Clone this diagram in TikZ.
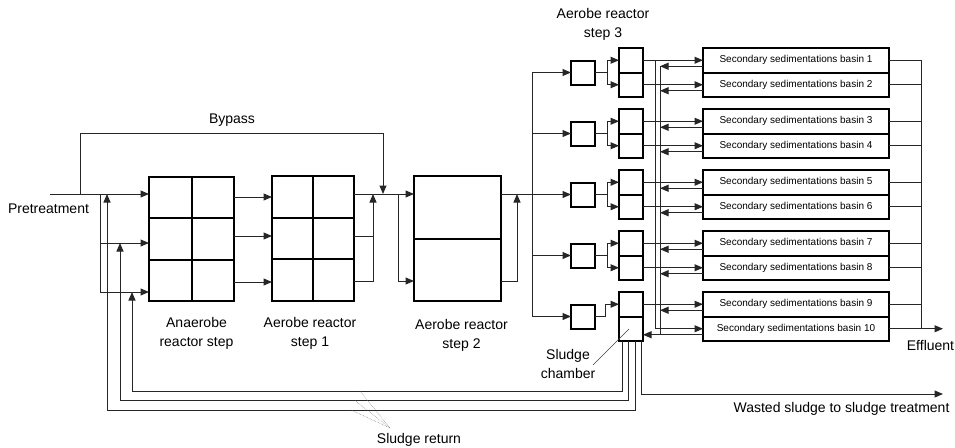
\documentclass[tikz,border=0pt]{standalone}
\usepackage{fontspec}
\setmainfont{Liberation Sans}
\usetikzlibrary{arrows.meta,calc}
\begin{document}
\begin{tikzpicture}[x=1pt,y=-1pt,
  conn/.style={line width=1pt, draw=black!85},
  flow/.style={conn, -{Triangle[length=8.5pt,width=7pt]}},
  box/.style={draw, line width=2pt, inner sep=0pt, outer sep=0pt},
  grid/.style={line width=2pt},
  lbl/.style={font=\fontsize{14}{19}\selectfont, align=center, inner sep=0pt},
  btxt/.style={font=\fontsize{10}{12}\selectfont},
  callout/.style={line width=0.5pt, draw=black!55, densely dotted},
  pointer/.style={line width=0.6pt, draw=black!75},
]
\useasboundingbox (0,0) rectangle (955,447);

% ---------- reactors ----------
\node[box, minimum width=85pt, minimum height=124pt] (an) at (191.5,239) {};
\draw[grid] (an.north) -- (an.south)
  ($(an.north west)!0.3333!(an.south west)$) -- ($(an.north east)!0.3333!(an.south east)$)
  ($(an.north west)!0.6667!(an.south west)$) -- ($(an.north east)!0.6667!(an.south east)$);
\node[box, minimum width=82pt, minimum height=125pt] (s1) at (313,238.5) {};
\draw[grid] (s1.north) -- (s1.south)
  ($(s1.north west)!0.3333!(s1.south west)$) -- ($(s1.north east)!0.3333!(s1.south east)$)
  ($(s1.north west)!0.6667!(s1.south west)$) -- ($(s1.north east)!0.6667!(s1.south east)$);
\node[box, minimum width=87pt, minimum height=125pt] (s2) at (457.5,238.5) {};
\draw[grid] (s2.west) -- (s2.east);

% ---------- step 3, basins ----------
\foreach \k in {0,...,4}{
  \pgfmathsetmacro\T{48+61*\k}
  \pgfmathtruncatemacro\na{2*\k+1}
  \pgfmathtruncatemacro\nb{2*\k+2}
  \node[box, minimum width=24pt, minimum height=49pt] (p\k) at (631,\T+24.5) {};
  \draw[grid] (p\k.west) -- (p\k.east);
  \node[box, minimum width=24pt, minimum height=24pt] (q\k) at (583,\T+24.5) {};
  \node[box, btxt, minimum width=186pt, minimum height=24.5pt] (ba\k) at (796,\T+12.25) {Secondary sedimentations basin \na};
  \node[box, btxt, minimum width=186pt, minimum height=24.5pt] (bb\k) at (796,\T+36.75) {Secondary sedimentations basin \nb};
}

% ---------- coordinates ----------
\coordinate (pstart) at (50,194);
\coordinate (bypA) at (80,194);
\coordinate (byin) at (383,194);
\coordinate (dist) at (100,194);
\coordinate (d2) at (100,243);
\coordinate (d3) at (100,292);
\coordinate (r1) at (107,194);
\coordinate (r2) at (120,243);
\coordinate (r3) at (132,292);
\coordinate (o2) at (354,236);
\coordinate (o3) at (354,281);
\coordinate (j1) at (373,194);
\coordinate (j2) at (398,194);
\coordinate (e3) at (501,281);
\coordinate (j3) at (517,194);
\coordinate (dv) at (532,194);
\coordinate (dtop) at (532,72.5);
\coordinate (dbot) at (532,316.5);
\coordinate (Atop) at (655,60.25);
\coordinate (Abot) at (655,328.75);
\coordinate (Btop) at (660,66.25);
\coordinate (Bbot) at (660,334.75);
\coordinate (Etop) at (921,60.25);
\coordinate (Ebot) at (921,328.75);
\coordinate (effend) at (943,328.75);
\coordinate (c3) at (622,341);
\coordinate (c2) at (628.5,341);
\coordinate (c1) at (635,341);
\coordinate (cw) at (641.5,341);
\coordinate (k3) at (622,391);
\coordinate (k2) at (628.5,400.5);
\coordinate (k1) at (635,410);
\coordinate (wend) at (943,394);

% ---------- inflow and bypass ----------
\draw[flow] (pstart) -- (pstart -| an.west);
\draw[flow] (bypA) -- ++(0,-61) -| (byin);
\draw[conn] (dist) -- (d3);
\draw[flow] (d2) -- (d2 -| an.west);
\draw[flow] (d3) -- (d3 -| an.west);

% anaerobe -> step 1
\foreach \yy in {197,236,282}{
  \coordinate (tmp) at (234,\yy);
  \draw[flow] (tmp -| an.east) -- (tmp -| s1.west);
}
% step 1 -> step 2
\draw[flow] (s1.east |- j1) -- (s2.west |- j1);
\draw[conn] (o2) -- (o2 -| j1);
\draw[flow] (o3) -| (j1);
\draw[flow] (j2) |- (s2.west |- o3);
% step 2 -> distribution
\draw[conn] (s2.east |- j3) -- (dv);
\draw[flow] (e3) -| (j3);
\draw[conn] (dtop) -- (dbot);
\foreach \k in {0,...,4}{
  \draw[flow] (q\k.west -| dtop) -- (q\k.west);
}

% squares -> step 3 cells -> basins
\foreach \k in {0,...,3}{
  \coordinate (f\k) at ($(q\k.east)+(12,0)$);
  \coordinate (ut\k) at ($(p\k.west)+(0,-12.25)$);
  \coordinate (ub\k) at ($(p\k.west)+(0,12.25)$);
  \draw[conn] (q\k.east) -- (f\k);
  \draw[flow] (f\k) |- (ut\k);
  \draw[flow] (f\k) |- (ub\k);
  \draw[flow] (ba\k.west -| p\k.east) -- (ba\k.west);
  \draw[flow] (bb\k.west -| p\k.east) -- (bb\k.west);
}
\coordinate (f4) at ($(q4.east)+(10,0)$);
\coordinate (ut4) at ($(p4.west)+(0,-12.25)$);
\draw[conn] (q4.east) -- (f4);
\draw[flow] (f4) |- (ut4);
\draw[flow] (ba4.west -| p4.east) -- (ba4.west);
\draw[flow] (bb4.west -| Atop) -- (bb4.west);
\draw[conn] (Atop) -- (Abot);

% returns from basins
\foreach \k in {0,...,4}{
  \coordinate (ra\k) at ($(ba\k.west)+(0,6)$);
  \draw[flow] (ra\k) -- (ra\k -| Btop);
}
\foreach \k in {0,...,3}{
  \coordinate (rb\k) at ($(bb\k.west)+(0,6)$);
  \draw[flow] (rb\k) -- (rb\k -| Btop);
}
\coordinate (rb4) at ($(bb4.west)+(0,6)$);
\draw[flow] (rb4) -- (rb4 -| p4.east);
\draw[conn] (Btop) -- (Bbot);

% effluent
\draw[conn] (Etop) -- (Ebot);
\foreach \k in {0,...,4}{
  \draw[conn] (ba\k.east) -- (ba\k.east -| Etop);
}
\foreach \k in {0,...,3}{
  \draw[conn] (bb\k.east) -- (bb\k.east -| Etop);
}
\draw[flow] (bb4.east) -- (effend);

% sludge chamber outlets
\draw[flow] (c3) -- (k3) -| (r3);
\draw[flow] (c2) -- (k2) -| (r2);
\draw[flow] (c1) -- (k1) -| (r1);
\draw[flow] (cw) |- (wend);

% ---------- labels ----------
\node[lbl] (lpre) at (48.5,209) {Pretreatment};
\node[lbl] (lbyp) at (232,120) {Bypass};
\node[lbl] (lan) at (196.5,333.5) {Anaerobe\\reactor step};
\node[lbl] (ls1) at (310,333.5) {Aerobe reactor\\step 1};
\node[lbl] (ls2) at (461.5,335) {Aerobe reactor\\step 2};
\node[lbl] (ls3) at (603,24.5) {Aerobe reactor\\step 3};
\node[lbl] (lch) at (568,363.5) {Sludge\\chamber};
\node[lbl] (leff) at (930.5,345) {Effluent};
\node[lbl] (lwas) at (841.5,409) {Wasted sludge to sludge treatment};
\node[lbl] (lret) at (419,440) {Sludge return};

% callouts
\coordinate (srp) at (390,428);
\coordinate (sr1) at (360,391);
\coordinate (sr2) at (355,400.5);
\coordinate (sr3) at (351,410);
\draw[callout] (sr1) -- (srp);
\draw[callout] (sr2) -- (srp);
\draw[callout] (sr3) -- (srp);
\coordinate (chp) at (593,365);
\coordinate (chq) at (629,329);
\draw[pointer] (chp) -- (chq);
\end{tikzpicture}
\end{document}
